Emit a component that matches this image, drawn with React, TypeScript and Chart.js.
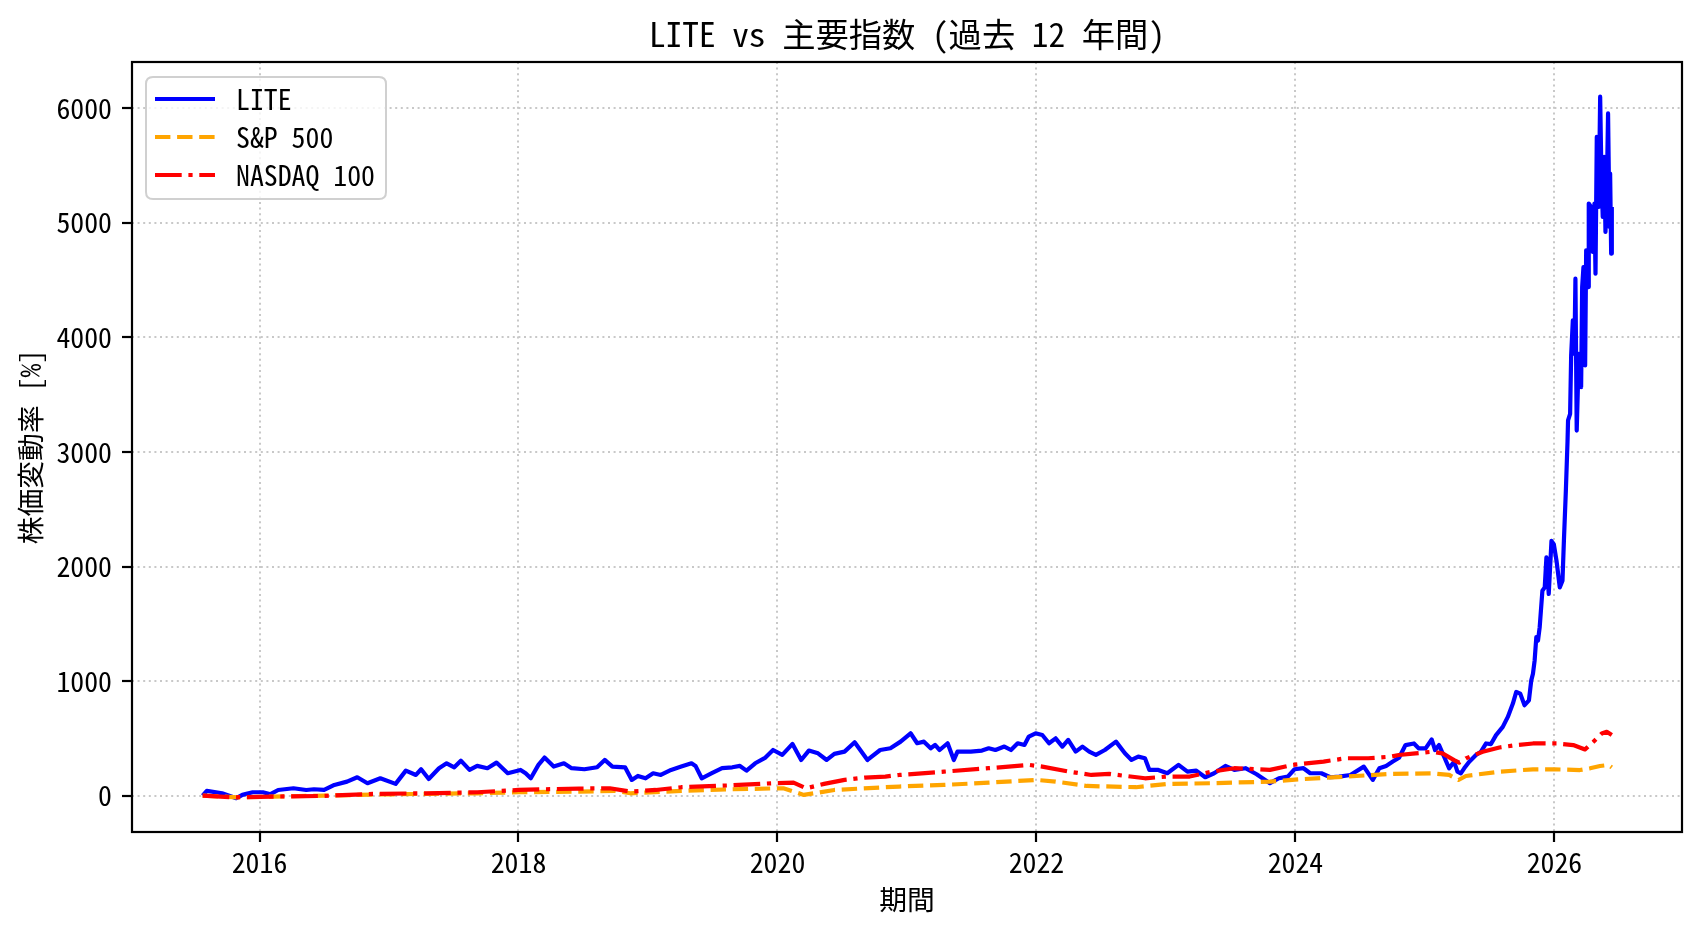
import React, { useEffect, useRef } from 'react';
import { Chart, registerables } from 'chart.js';

Chart.register(...registerables);

const FONT = '"Noto Sans Mono CJK JP", "Noto Sans CJK JP", sans-serif';

const titleText = 'LITE vs 主要指数 (過去 12 年間)';
const xLabel = '期間';
const yLabel = '株価変動率 [%]';
const seriesNames = ['LITE', 'S&P 500', 'NASDAQ 100'];
const seriesColors = ['#0000ff', '#ffa500', '#ff0000'];
const xTickValues = [2016, 2018, 2020, 2022, 2024, 2026];
const yTickValues = [0, 1000, 2000, 3000, 4000, 5000, 6000];
const xRange = [2015.0154, 2026.985];
const yRange = [-318, 6405];

const liteDates = [
  2015.561, 2015.593, 2015.711, 2015.821, 2015.868, 2015.947, 2016.026, 2016.085, 2016.144, 2016.262,
  2016.361, 2016.42, 2016.499, 2016.578, 2016.676, 2016.755, 2016.834, 2016.933, 2017.051, 2017.13,
  2017.208, 2017.248, 2017.307, 2017.386, 2017.445, 2017.504, 2017.555, 2017.622, 2017.681, 2017.76,
  2017.83, 2017.917, 2018.016, 2018.055, 2018.095, 2018.154, 2018.201, 2018.272, 2018.351, 2018.41,
  2018.509, 2018.607, 2018.666, 2018.725, 2018.823, 2018.875, 2018.922, 2018.981, 2019.04, 2019.099,
  2019.178, 2019.257, 2019.336, 2019.367, 2019.415, 2019.493, 2019.572, 2019.651, 2019.71, 2019.761,
  2019.828, 2019.907, 2019.966, 2020.037, 2020.116, 2020.183, 2020.242, 2020.313, 2020.38, 2020.439,
  2020.518, 2020.596, 2020.695, 2020.793, 2020.872, 2020.951, 2021.028, 2021.079, 2021.131, 2021.183,
  2021.217, 2021.252, 2021.314, 2021.362, 2021.39, 2021.493, 2021.579, 2021.631, 2021.683, 2021.752,
  2021.803, 2021.855, 2021.907, 2021.941, 2021.993, 2022.045, 2022.097, 2022.148, 2022.2, 2022.245,
  2022.303, 2022.355, 2022.407, 2022.459, 2022.528, 2022.614, 2022.683, 2022.734, 2022.786, 2022.838,
  2022.872, 2022.941, 2023.01, 2023.097, 2023.166, 2023.234, 2023.303, 2023.372, 2023.459, 2023.528,
  2023.614, 2023.7, 2023.803, 2023.872, 2023.941, 2023.993, 2024.062, 2024.114, 2024.2, 2024.269,
  2024.338, 2024.424, 2024.528, 2024.597, 2024.648, 2024.7, 2024.752, 2024.8, 2024.85, 2024.915,
  2024.953, 2025.005, 2025.052, 2025.078, 2025.109, 2025.148, 2025.187, 2025.225, 2025.251, 2025.277,
  2025.303, 2025.342, 2025.394, 2025.433, 2025.472, 2025.51, 2025.549, 2025.601, 2025.64, 2025.679,
  2025.705, 2025.736, 2025.769, 2025.803, 2025.821, 2025.834, 2025.847, 2025.86, 2025.873, 2025.886,
  2025.907, 2025.925, 2025.938, 2025.956, 2025.977, 2025.995, 2026.016, 2026.041, 2026.062, 2026.073,
  2026.088, 2026.101, 2026.105, 2026.121, 2026.129, 2026.142, 2026.154, 2026.162, 2026.172, 2026.188,
  2026.206, 2026.214, 2026.224, 2026.237, 2026.245, 2026.26, 2026.265, 2026.283, 2026.296, 2026.309,
  2026.317, 2026.327, 2026.342, 2026.353, 2026.363, 2026.373, 2026.384, 2026.394, 2026.404, 2026.414,
  2026.425, 2026.43, 2026.438, 2026.443,
];
const liteValues = [
  0, 41, 20, -23, 6, 29, 29, 12, 49, 64,
  49, 55, 49, 93, 122, 160, 108, 151, 102, 218,
  180, 230, 145, 239, 282, 247, 305, 224, 259, 239,
  288, 195, 224, 195, 151, 268, 332, 253, 282, 239,
  230, 247, 311, 253, 247, 137, 172, 151, 195, 180,
  224, 253, 282, 259, 151, 195, 239, 247, 259, 218,
  282, 332, 398, 355, 451, 311, 393, 369, 311, 364,
  384, 465, 311, 398, 413, 471, 544, 457, 471, 413,
  442, 398, 457, 311, 384, 384, 393, 413, 398, 428,
  398, 457, 442, 515, 544, 529, 457, 500, 428, 486,
  384, 428, 384, 355, 398, 471, 369, 311, 340, 326,
  224, 224, 195, 268, 209, 218, 160, 195, 259, 224,
  239, 186, 108, 151, 166, 230, 239, 195, 195, 160,
  166, 180, 253, 137, 239, 259, 297, 330, 441, 455,
  412, 412, 490, 397, 441, 339, 238, 296, 209, 194,
  238, 296, 354, 383, 455, 450, 528, 600, 687, 803,
  905, 890, 789, 832, 1006, 1064, 1180, 1383, 1354, 1470,
  1789, 1818, 2079, 1760, 2224, 2195, 2050, 1818, 1876, 2224,
  2659, 3094, 3275, 3333, 3843, 4149, 3857, 4513, 3187, 3857,
  3566, 4440, 4615, 3755, 4761, 4440, 5169, 5140, 4747, 5169,
  4557, 5752, 5140, 6102, 5402, 5053, 5577, 4921, 5256, 5956,
  4965, 5431, 4732, 5140,
];

const spDates = [
  2015.561, 2015.829, 2016.105, 2016.499, 2016.893, 2017.287, 2017.681, 2018.0, 2018.469, 2018.745,
  2018.863, 2019.257, 2019.651, 2020.045, 2020.203, 2020.439, 2020.833, 2020.941, 2021.286, 2021.631,
  2022.0, 2022.148, 2022.39, 2022.769, 2023.01, 2023.355, 2023.803, 2024.045, 2024.39, 2024.734,
  2025.057, 2025.187, 2025.259, 2025.316, 2025.575, 2025.834, 2026.0, 2026.197, 2026.275, 2026.352,
  2026.417, 2026.443,
];
const spValues = [
  0, -15, -9, 0, 9, 15, 20, 29, 35, 41,
  20, 41, 55, 64, 6, 49, 73, 79, 93, 113,
  137, 122, 84, 73, 102, 108, 122, 143, 166, 189,
  194, 180, 136, 171, 209, 229, 229, 223, 238, 258,
  267, 246,
];

const ndxDates = [
  2015.561, 2015.79, 2016.105, 2016.499, 2016.893, 2017.287, 2017.681, 2018.0, 2018.193, 2018.469,
  2018.705, 2018.863, 2019.06, 2019.257, 2019.651, 2019.966, 2020.124, 2020.222, 2020.36, 2020.518,
  2020.675, 2020.833, 2020.941, 2021.286, 2021.631, 2021.941, 2022.045, 2022.252, 2022.424, 2022.562,
  2022.838, 2023.01, 2023.183, 2023.355, 2023.528, 2023.803, 2023.976, 2024.217, 2024.39, 2024.562,
  2024.734, 2024.798, 2024.927, 2025.057, 2025.135, 2025.225, 2025.264, 2025.316, 2025.446, 2025.575,
  2025.705, 2025.834, 2026.016, 2026.145, 2026.236, 2026.301, 2026.365, 2026.404, 2026.443,
];
const ndxValues = [
  0, -15, -9, -3, 15, 20, 29, 49, 55, 61,
  64, 35, 49, 73, 90, 108, 113, 64, 102, 137,
  157, 166, 180, 209, 239, 268, 253, 209, 180, 189,
  151, 166, 166, 209, 239, 224, 268, 297, 326, 326,
  340, 354, 368, 383, 368, 310, 287, 325, 383, 420,
  441, 455, 455, 441, 403, 470, 542, 557, 528,
];

const seriesDates = [liteDates, spDates, ndxDates];
const seriesValues = [liteValues, spValues, ndxValues];
const seriesDash = [[], [15.4, 6.7], [26.7, 6.7, 4.2, 6.7]];

const LW = 4.2;

const titlePlugin = {
  id: 'mplTitle',
  afterDraw(chart: any) {
    const { ctx, chartArea } = chart;
    ctx.save();
    ctx.fillStyle = '#000';
    ctx.font = `33.3px ${FONT}`;
    ctx.textAlign = 'center';
    ctx.textBaseline = 'middle';
    ctx.fillText(titleText, (chartArea.left + chartArea.right) / 2, chartArea.top - 28);
    ctx.restore();
  },
};

const framePlugin = {
  id: 'mplFrame',
  afterDatasetsDraw(chart: any) {
    const { ctx, chartArea } = chart;
    ctx.save();
    ctx.strokeStyle = '#000';
    ctx.lineWidth = 2.2;
    ctx.setLineDash([]);
    ctx.strokeRect(chartArea.left, chartArea.top, chartArea.right - chartArea.left, chartArea.bottom - chartArea.top);
    ctx.restore();
  },
};

const legendPlugin = {
  id: 'mplLegend',
  afterDraw(chart: any) {
    const { ctx, chartArea } = chart;
    const bx = chartArea.left + 14;
    const by = chartArea.top + 15;
    const bw = 240;
    const bh = 122;
    const r = 7;
    ctx.save();
    ctx.beginPath();
    ctx.moveTo(bx + r, by);
    ctx.lineTo(bx + bw - r, by);
    ctx.quadraticCurveTo(bx + bw, by, bx + bw, by + r);
    ctx.lineTo(bx + bw, by + bh - r);
    ctx.quadraticCurveTo(bx + bw, by + bh, bx + bw - r, by + bh);
    ctx.lineTo(bx + r, by + bh);
    ctx.quadraticCurveTo(bx, by + bh, bx, by + bh - r);
    ctx.lineTo(bx, by + r);
    ctx.quadraticCurveTo(bx, by, bx + r, by);
    ctx.closePath();
    ctx.fillStyle = 'rgba(255,255,255,0.8)';
    ctx.fill();
    ctx.strokeStyle = '#d0d0d0';
    ctx.lineWidth = 2;
    ctx.stroke();

    seriesNames.forEach((name, i) => {
      const cy = by + 22 + i * 38;
      ctx.beginPath();
      ctx.setLineDash(seriesDash[i]);
      ctx.strokeStyle = seriesColors[i];
      ctx.lineWidth = LW;
      ctx.lineCap = 'butt';
      ctx.moveTo(bx + 9, cy);
      ctx.lineTo(bx + 69, cy);
      ctx.stroke();
      ctx.setLineDash([]);
      ctx.fillStyle = '#000';
      ctx.font = `27.8px ${FONT}`;
      ctx.textAlign = 'left';
      ctx.textBaseline = 'middle';
      ctx.fillText(name, bx + 90, cy);
    });
    ctx.restore();
  },
};

export default function App() {
  const canvasRef = useRef<HTMLCanvasElement | null>(null);

  useEffect(() => {
    const canvas = canvasRef.current;
    if (!canvas) return;
    const datasets = seriesNames.map((name, i) => ({
      label: name,
      data: seriesDates[i].map((d, j) => ({ x: d, y: seriesValues[i][j] })),
      borderColor: seriesColors[i],
      backgroundColor: seriesColors[i],
      borderWidth: LW,
      borderDash: seriesDash[i],
      borderJoinStyle: 'round' as const,
      borderCapStyle: 'butt' as const,
      pointRadius: 0,
      tension: 0,
      fill: false,
      order: 2 - i,
    }));

    const tickFont = { family: FONT, size: 27.8, lineHeight: 1.2 };

    const chart = new Chart(canvas, {
      type: 'line',
      data: { datasets },
      options: {
        animation: false,
        responsive: false,
        devicePixelRatio: 1,
        events: [],
        layout: { padding: { top: 62, right: 20, left: 0, bottom: 0 } },
        plugins: {
          legend: { display: false },
          title: { display: false },
          tooltip: { enabled: false },
        },
        scales: {
          x: {
            type: 'linear',
            min: xRange[0],
            max: xRange[1],
            afterBuildTicks: (s: any) => {
              s.ticks = xTickValues.map((v) => ({ value: v }));
            },
            afterFit: (s: any) => {
              s.height = 100;
            },
            grid: {
              color: '#c8c8c8',
              lineWidth: 2,
              tickLength: 10,
              tickColor: '#000',
              tickWidth: 2.2,
              drawTicks: true,
            },
            border: { display: false, dash: [2, 3.6] },
            ticks: {
              font: tickFont,
              color: '#000',
              padding: 4,
              maxRotation: 0,
              autoSkip: false,
              callback: (v: any) => String(v),
            },
            title: {
              display: true,
              text: xLabel,
              color: '#000',
              font: tickFont,
              padding: { top: 0, bottom: 16 },
            },
          },
          y: {
            type: 'linear',
            min: yRange[0],
            max: yRange[1],
            afterBuildTicks: (s: any) => {
              s.ticks = yTickValues.map((v) => ({ value: v }));
            },
            afterFit: (s: any) => {
              s.width = 132;
            },
            grid: {
              color: '#c8c8c8',
              lineWidth: 2,
              tickLength: 10,
              tickColor: '#000',
              tickWidth: 2.2,
              drawTicks: true,
            },
            border: { display: false, dash: [2, 3.6] },
            ticks: {
              font: tickFont,
              color: '#000',
              padding: 10,
              autoSkip: false,
              callback: (v: any) => String(v),
            },
            title: {
              display: true,
              text: yLabel,
              color: '#000',
              font: tickFont,
              padding: { top: 14, bottom: 0 },
            },
          },
        },
      },
      plugins: [framePlugin, legendPlugin, titlePlugin],
    });

    return () => {
      chart.destroy();
    };
  }, []);

  return (
    <div style={{ position: 'absolute', left: 0, top: 0, width: 1702, height: 932, background: '#fff' }}>
      <canvas ref={canvasRef} width={1702} height={932} style={{ width: 1702, height: 932, display: 'block' }} />
    </div>
  );
}
